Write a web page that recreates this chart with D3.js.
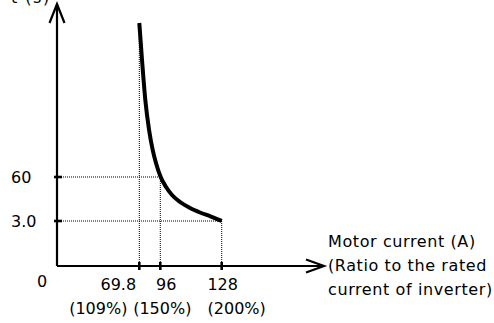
<!DOCTYPE html>
<html>
<head>
<meta charset="utf-8">
<script src="https://cdn.jsdelivr.net/npm/d3@7"></script>
<style>
  body { margin: 0; background: #fff; }
  text { font-family: "DejaVu Sans", sans-serif; font-size: 16px; fill: #000; }
</style>
</head>
<body>
<div id="chart"></div>
<script>
const width = 494;
const height = 323;

// data
const xTicks = [69.8, 96, 128];
const xTickLabels = ["69.8", "96", "128"];
const xTickPct = ["(109%)", "(150%)", "(200%)"];
const yTicks = [3.0, 60];
const yTickLabels = ["3.0", "60"];
const curveCurrent = [69.8, 73.2, 77.3, 82.0, 86.5, 90.6, 96.2, 99.0, 102.1, 106.3, 111.5, 116.7, 122.4, 128];
const curveTime = [600, 470, 330, 225, 155, 109, 60, 47.0, 36.7, 27.6, 19.8, 14.0, 8.8, 3.0];
const xTitle = ["Motor current (A)", "(Ratio to the rated", "current of inverter)"];
const yTitle = "t (s)";

const svg = d3.select("#chart").append("svg")
    .attr("width", width)
    .attr("height", height);

// schematic axes: not to scale, so piecewise scales
const x = d3.scaleLinear()
    .domain([0, 69.8, 96, 128, 168])
    .range([57, 139.3, 160.3, 221.7, 324]);

const y = d3.scaleLinear()
    .domain([0, 3, 60, 600, 720])
    .range([266, 221, 177, 23, 4]);

const curve = curveCurrent.map((c, i) => [c, curveTime[i]]);

// dotted guide lines
const guides = [
    {x1: x(69.8), y1: y(600), x2: x(69.8), y2: y(0)},
    {x1: x(96), y1: y(60), x2: x(96), y2: y(0)},
    {x1: x(128), y1: y(3), x2: x(128), y2: y(0)},
    {x1: x(0), y1: y(60), x2: x(96.2), y2: y(60)},
    {x1: x(0), y1: y(3), x2: x(128), y2: y(3)}
];
svg.selectAll(".guide")
    .data(guides)
    .enter().append("line")
    .attr("class", "guide")
    .attr("x1", d => d.x1).attr("y1", d => d.y1)
    .attr("x2", d => d.x2).attr("y2", d => d.y2)
    .attr("stroke", "#000")
    .attr("stroke-width", 1)
    .attr("stroke-dasharray", "1,1");

// axes
svg.append("line")
    .attr("x1", x(0)).attr("y1", y(0))
    .attr("x2", x(0)).attr("y2", y(720))
    .attr("stroke", "#000").attr("stroke-width", 2.2);
svg.append("line")
    .attr("x1", x(0)).attr("y1", y(0))
    .attr("x2", x(168)).attr("y2", y(0))
    .attr("stroke", "#000").attr("stroke-width", 2.2);

// arrow heads (open)
svg.append("path")
    .attr("d", `M${x(0) - 7.5},${y(720) + 19}L${x(0)},${y(720)}L${x(0) + 7.5},${y(720) + 19}`)
    .attr("fill", "none").attr("stroke", "#000").attr("stroke-width", 2.2);
svg.append("path")
    .attr("d", `M${x(168) - 18},${y(0) - 6.5}L${x(168)},${y(0)}L${x(168) - 18},${y(0) + 6.5}`)
    .attr("fill", "none").attr("stroke", "#000").attr("stroke-width", 2.2);

// tick marks
svg.selectAll(".xtick")
    .data(xTicks)
    .enter().append("line")
    .attr("class", "xtick")
    .attr("x1", d => x(d)).attr("x2", d => x(d))
    .attr("y1", y(0) - 4).attr("y2", y(0) + 4)
    .attr("stroke", "#000").attr("stroke-width", 2.6);
svg.selectAll(".ytick")
    .data(yTicks)
    .enter().append("line")
    .attr("class", "ytick")
    .attr("x1", x(0) - 3).attr("x2", x(0) + 5)
    .attr("y1", d => y(d)).attr("y2", d => y(d))
    .attr("stroke", "#000").attr("stroke-width", 2.6);

// curve
svg.append("path")
    .datum(curve)
    .attr("d", d3.line()
        .x(d => x(d[0]))
        .y(d => y(d[1]))
        .curve(d3.curveMonotoneX))
    .attr("fill", "none")
    .attr("stroke", "#000")
    .attr("stroke-width", 4);

// tick labels (placed a bit off-centre like the original)
const xLabelShift = [-21, 6, 1];
const xPctShift = [-41, 2, 15];
svg.selectAll(".xlab")
    .data(xTicks)
    .enter().append("text")
    .attr("class", "xlab")
    .attr("x", (d, i) => x(d) + xLabelShift[i])
    .attr("y", 290)
    .attr("text-anchor", "middle")
    .text((d, i) => xTickLabels[i]);
svg.selectAll(".xpct")
    .data(xTicks)
    .enter().append("text")
    .attr("class", "xpct")
    .attr("x", (d, i) => x(d) + xPctShift[i])
    .attr("y", 314)
    .attr("text-anchor", "middle")
    .text((d, i) => xTickPct[i]);
svg.append("text")
    .attr("x", x(0) - 15)
    .attr("y", 287)
    .attr("text-anchor", "middle")
    .text("0");
svg.selectAll(".ylab")
    .data(yTicks)
    .enter().append("text")
    .attr("class", "ylab")
    .attr("x", 11)
    .attr("y", d => y(d) + 6)
    .text((d, i) => yTickLabels[i]);

// axis titles
svg.append("text")
    .attr("x", 11)
    .attr("y", 3)
    .style("letter-spacing", "1.5px")
    .text(yTitle);
svg.selectAll(".xtitle")
    .data(xTitle)
    .enter().append("text")
    .attr("class", "xtitle")
    .attr("x", 328)
    .attr("y", (d, i) => 247 + i * 24)
    .style("letter-spacing", "0.6px")
    .text(d => d);
</script>
</body>
</html>
